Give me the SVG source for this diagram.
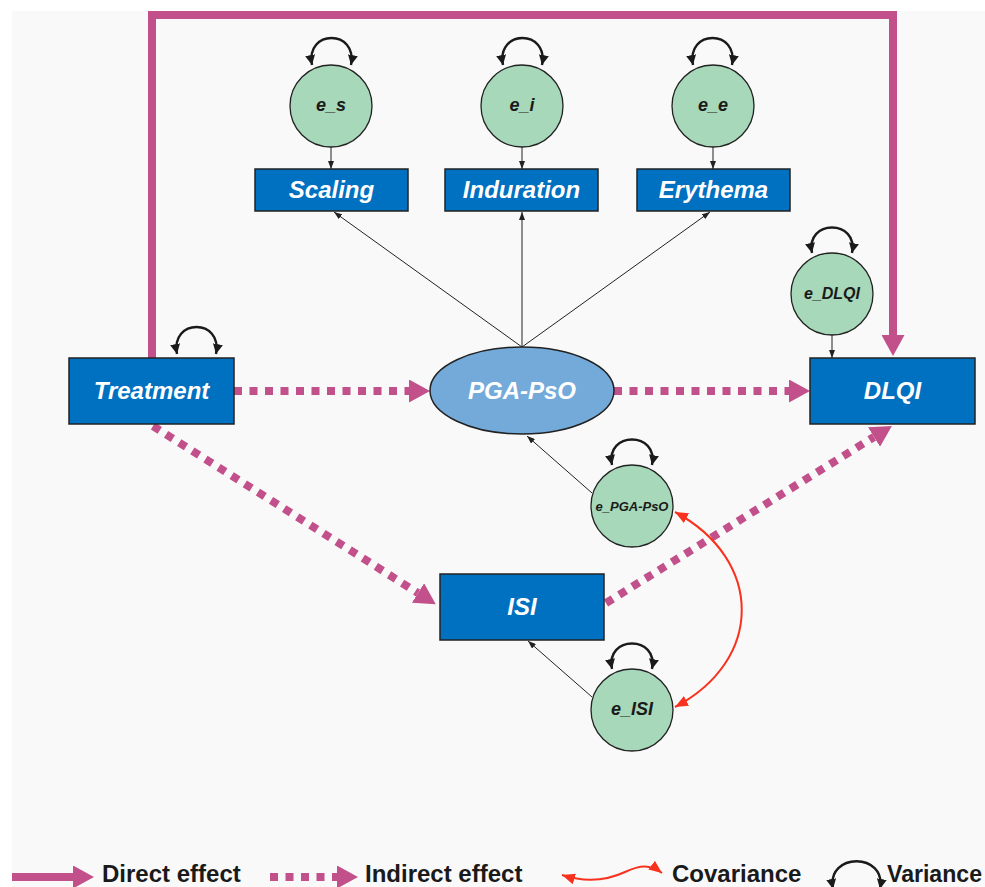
<svg xmlns="http://www.w3.org/2000/svg" width="985" height="887" viewBox="0 0 985 887">
<style>
.box{fill:#0070c0;stroke:#222;stroke-width:1.5}
.err{fill:#a7d8b9;stroke:#222;stroke-width:1.3}
.lat{fill:#74aad9;stroke:#222;stroke-width:1.5}
.bl{font-family:"Liberation Sans",Arial,sans-serif;font-weight:bold;font-style:italic;font-size:24px;fill:#fff;text-anchor:middle}
.el{font-family:"Liberation Sans",Arial,sans-serif;font-weight:bold;font-style:italic;fill:#1a1a1a;text-anchor:middle}
.lg{font-family:"Liberation Sans",Arial,sans-serif;font-weight:bold;font-size:24px;fill:#1a1a1a}
.thin{fill:none;stroke:#222;stroke-width:1}
.var{fill:none;stroke:#1a1a1a;stroke-width:2.4}
.dir{fill:none;stroke:#c2508a;stroke-width:8}
.ind{fill:none;stroke:#c2508a;stroke-width:8;stroke-dasharray:8 7.5}
.cov{fill:none;stroke:#f8321e;stroke-width:2}
</style>
<defs>
<marker id="sm" viewBox="0 0 8 6" refX="8" refY="3" markerWidth="8" markerHeight="6" markerUnits="userSpaceOnUse" orient="auto"><path d="M0,0 L8,3 L0,6 z" fill="#222"/></marker>
<marker id="va" viewBox="0 0 10 10" refX="10" refY="5" markerWidth="10" markerHeight="10" markerUnits="userSpaceOnUse" orient="auto-start-reverse"><path d="M0,0 L10,5 L0,10 z" fill="#1a1a1a"/></marker>
<marker id="mg" viewBox="0 0 21 23" refX="0" refY="11.5" markerWidth="21" markerHeight="23" markerUnits="userSpaceOnUse" orient="auto"><path d="M0,0 L21,11.5 L0,23 z" fill="#c2508a"/></marker>
<marker id="rd" viewBox="0 0 13 11" refX="13" refY="5.5" markerWidth="13" markerHeight="11" markerUnits="userSpaceOnUse" orient="auto-start-reverse"><path d="M0,0 L13,5.5 L0,11 z" fill="#f8321e"/></marker>
</defs>
<rect x="0" y="0" width="985" height="887" fill="#fff"/>
<rect x="12" y="11" width="973" height="876" fill="#f9f9f9"/>

<g id="connectors">
<path class="dir" d="M152,358 V15 H893 V335" marker-end="url(#mg)"/>
<line class="ind" x1="234" y1="391" x2="409" y2="391" marker-end="url(#mg)"/>
<line class="ind" x1="614" y1="391" x2="789" y2="391" marker-end="url(#mg)"/>
<line class="ind" x1="153" y1="426" x2="418" y2="593" marker-end="url(#mg)"/>
<line class="ind" x1="606" y1="603" x2="874" y2="437" marker-end="url(#mg)"/>
<line class="thin" x1="331" y1="147" x2="331" y2="169" marker-end="url(#sm)"/>
<line class="thin" x1="522" y1="147" x2="522" y2="169" marker-end="url(#sm)"/>
<line class="thin" x1="713" y1="147" x2="713" y2="169" marker-end="url(#sm)"/>
<line class="thin" x1="832" y1="335" x2="832" y2="358" marker-end="url(#sm)"/>
<line class="thin" x1="522" y1="347" x2="334" y2="212" marker-end="url(#sm)"/>
<line class="thin" x1="522" y1="347" x2="522" y2="212" marker-end="url(#sm)"/>
<line class="thin" x1="522" y1="347" x2="710" y2="212" marker-end="url(#sm)"/>
<line class="thin" x1="592" y1="493" x2="527" y2="436" marker-end="url(#sm)"/>
<line class="thin" x1="592" y1="697" x2="528" y2="641" marker-end="url(#sm)"/>
<path class="cov" d="M675,512 C764,560 764,660 675,707" marker-start="url(#rd)" marker-end="url(#rd)"/>
<path class="var" d="M177,354 C170,318 223,318 216,354" marker-start="url(#va)" marker-end="url(#va)"/>
<path class="var" d="M312,65 C305,29 358,29 351,65" marker-start="url(#va)" marker-end="url(#va)"/>
<path class="var" d="M503,65 C496,29 549,29 542,65" marker-start="url(#va)" marker-end="url(#va)"/>
<path class="var" d="M693,65 C686,29 739,29 732,65" marker-start="url(#va)" marker-end="url(#va)"/>
<path class="var" d="M812,253 C805,219 859,219 852,253" marker-start="url(#va)" marker-end="url(#va)"/>
<path class="var" d="M612,465 C605,431 659,431 652,465" marker-start="url(#va)" marker-end="url(#va)"/>
<path class="var" d="M612,669 C605,635 659,635 652,669" marker-start="url(#va)" marker-end="url(#va)"/>
</g>

<g id="e_s"><circle class="err" cx="331" cy="106" r="41"/><text class="el" x="331" y="111" font-size="18">e_s</text></g>
<g id="e_i"><circle class="err" cx="522" cy="106" r="41"/><text class="el" x="522" y="111" font-size="18">e_i</text></g>
<g id="e_e"><circle class="err" cx="713" cy="106" r="41"/><text class="el" x="713" y="111" font-size="18">e_e</text></g>
<g id="scaling"><rect class="box" x="255" y="169" width="153" height="42"/><text class="bl" x="331.5" y="198">Scaling</text></g>
<g id="induration"><rect class="box" x="445" y="169" width="153" height="42"/><text class="bl" x="521.5" y="198">Induration</text></g>
<g id="erythema"><rect class="box" x="637" y="169" width="153" height="42"/><text class="bl" x="713.5" y="198">Erythema</text></g>
<g id="e_DLQI"><circle class="err" cx="832" cy="294" r="41"/><text class="el" x="832" y="299" font-size="16">e_DLQI</text></g>
<g id="treatment"><rect class="box" x="69" y="358" width="165" height="66"/><text class="bl" x="151.5" y="399">Treatment</text></g>
<g id="pga"><ellipse class="lat" cx="522" cy="390.5" rx="92" ry="43.5"/><text class="bl" x="522" y="399">PGA-PsO</text></g>
<g id="dlqi"><rect class="box" x="810" y="358" width="165" height="66"/><text class="bl" x="892.5" y="399">DLQI</text></g>
<g id="e_PGA"><circle class="err" cx="632" cy="506" r="41"/><text class="el" x="632" y="511" font-size="13">e_PGA-PsO</text></g>
<g id="isi"><rect class="box" x="440" y="574" width="164" height="66"/><text class="bl" x="522" y="615">ISI</text></g>
<g id="e_ISI"><circle class="err" cx="632" cy="710" r="41"/><text class="el" x="632" y="715" font-size="18">e_ISI</text></g>

<g id="legend">
<line class="dir" x1="12" y1="877" x2="73" y2="877" marker-end="url(#mg)"/>
<text class="lg" x="102" y="882">Direct effect</text>
<line class="ind" x1="270" y1="877" x2="337" y2="877" marker-end="url(#mg)"/>
<text class="lg" x="365" y="882">Indirect effect</text>
<path class="cov" d="M562,875 C590,884 610,879 625,872 S650,864 662,873" marker-start="url(#rd)" marker-end="url(#rd)"/>
<text class="lg" x="672" y="882">Covariance</text>
<path class="var" d="M833,889 C826,852 887,852 880,889" marker-start="url(#va)" marker-end="url(#va)"/>
<text class="lg" x="887" y="882" font-size="23" textLength="95" lengthAdjust="spacingAndGlyphs">Variance</text>
</g>
</svg>
